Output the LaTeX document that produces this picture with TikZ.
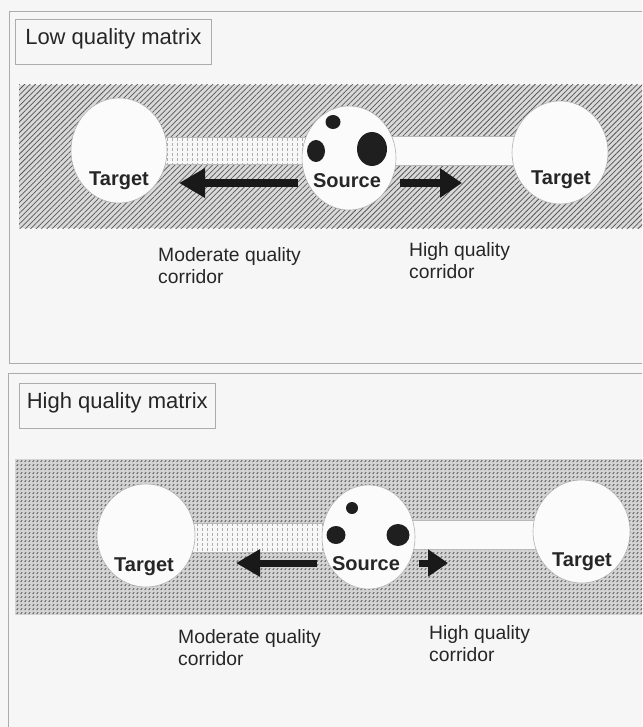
\documentclass[tikz,border=0pt]{standalone}
\usepackage{fontspec}
\setmainfont{Liberation Sans}
\usetikzlibrary{shapes.geometric,arrows.meta,patterns.meta}

\pgfdeclarepattern{
  name=ticks,
  type=uncolored,
  bottom left={\pgfpoint{-1pt}{-1pt}},
  top right={\pgfpoint{5pt}{5pt}},
  tile size={\pgfpoint{4pt}{4pt}},
  code={
    \pgfsetlinewidth{0.8pt}
    \pgfpathmoveto{\pgfpoint{0.6pt}{1.0pt}}
    \pgfpathlineto{\pgfpoint{2.2pt}{2.8pt}}
    \pgfusepath{stroke}
  }
}
\pgfdeclarepattern{
  name=vdash,
  type=uncolored,
  bottom left={\pgfpoint{-1pt}{-1pt}},
  top right={\pgfpoint{6pt}{6pt}},
  tile size={\pgfpoint{5pt}{5pt}},
  code={
    \pgfsetlinewidth{0.8pt}
    \pgfpathmoveto{\pgfpoint{2.5pt}{1pt}}
    \pgfpathlineto{\pgfpoint{2.5pt}{3.6pt}}
    \pgfusepath{stroke}
  }
}

\begin{document}
\begin{tikzpicture}[x=1pt,y=-1pt,
  frame/.style={draw=gray!65,line width=0.7pt},
  titlebox/.style={draw=gray!65,line width=0.6pt,anchor=north west,
    minimum width=196pt,minimum height=45pt,inner xsep=0pt,
    inner ysep=0pt,font=\fontsize{22}{26}\selectfont,text=black!85,
    text height=16pt,text depth=10pt},
  ellip/.style={ellipse,draw=gray!60,line width=0.6pt,fill=gray!3,inner sep=0pt},
  nm/.style={font=\bfseries\fontsize{20}{24}\selectfont,text=black!85,anchor=base,inner sep=0pt},
  lbl/.style={font=\fontsize{19.3}{21.5}\selectfont,text=black!85,align=left,anchor=base west,inner sep=0pt},
  bigarrow/.style={draw=black!90,line width=#1},
  modcorr/.style={draw=gray!55,line width=0.5pt,fill=gray!6},
  highcorr/.style={draw=gray!55,line width=0.5pt,fill=gray!4},
]
\useasboundingbox (0,0) rectangle (642,727);
\clip (0,0) rectangle (642,727);
\fill[gray!7] (0,0) rectangle (642,727);

% ---------------- Top panel: low quality matrix ----------------
\draw[frame] (9,11) rectangle (670,363);
\node[titlebox] (t1) at (15,19) {Low quality matrix};

\fill[gray!30] (19,85) rectangle (670,228);
\fill[pattern={Lines[angle=45,distance=3.8pt,line width=0.75pt]},pattern color=black!66] (19,85) rectangle (670,228);

% corridors
\draw[modcorr] (150,137) rectangle (320,164);
\fill[pattern=vdash,pattern color=gray!65] (150,137) rectangle (320,164);
\draw[highcorr] (380,136) rectangle (530,165);

% patches
\node[ellip,minimum width=96pt,minimum height=105pt] (tL) at (119,150.5) {};
\node[ellip,minimum width=94pt,minimum height=104pt] (src) at (349,158) {};
\node[ellip,minimum width=96pt,minimum height=103pt] (tR) at (560,152.5) {};

\fill[black!88] (333,122) ellipse [x radius=7.5pt,y radius=7pt];
\fill[black!88] (316,151) ellipse [x radius=9pt,y radius=11pt];
\fill[black!88] (372,149) ellipse [x radius=15pt,y radius=17pt];

\node[nm] (tLt) at (119,186) {Target};
\node[nm] (srct) at (347,188) {Source};
\node[nm] (tRt) at (561,185) {Target};

\coordinate (a1s) at (298,183);
\coordinate (a1e) at (179,183);
\coordinate (a2s) at (400,183);
\coordinate (a2e) at (462,183);
\draw[bigarrow=8pt,-{Triangle[length=26pt,width=28pt]}] (a1s) -- (a1e);
\draw[bigarrow=8pt,-{Triangle[length=22pt,width=28pt]}] (a2s) -- (a2e);

\node[lbl] (m1) at (158,283) {Moderate quality\\corridor};
\node[lbl] (h1) at (409,278) {High quality\\corridor};

% ---------------- Bottom panel: high quality matrix ----------------
\draw[frame] (8,373) rectangle (670,760);
\node[titlebox] (t2) at (19,383) {High quality matrix};

\fill[gray!34] (15,459) rectangle (670,615);
\fill[pattern=ticks,pattern color=black!65] (15,459) rectangle (670,615);

\draw[modcorr] (175,523) rectangle (340,552);
\fill[pattern=vdash,pattern color=gray!65] (175,523) rectangle (340,552);
\draw[highcorr] (400,520) rectangle (550,549);

\node[ellip,minimum width=98pt,minimum height=103pt] (bL) at (146,535.5) {};
\node[ellip,minimum width=93pt,minimum height=104pt] (bsrc) at (368.5,537) {};
\node[ellip,minimum width=97pt,minimum height=103pt] (bR) at (581.5,531.5) {};

\fill[black!88] (352,508) ellipse [x radius=6pt,y radius=6pt];
\fill[black!88] (336,535) ellipse [x radius=9.5pt,y radius=9pt];
\fill[black!88] (398,535) ellipse [x radius=11.5pt,y radius=11pt];

\node[nm] (bLt) at (144,571) {Target};
\node[nm] (bsrct) at (366,570) {Source};
\node[nm] (bRt) at (582,566) {Target};

\coordinate (b1s) at (317,563);
\coordinate (b1e) at (236,563);
\coordinate (b2s) at (419,563);
\coordinate (b2e) at (448,563);
\draw[bigarrow=7pt,-{Triangle[length=24pt,width=26pt]}] (b1s) -- (b1e);
\draw[bigarrow=7pt,-{Triangle[length=20pt,width=26pt]}] (b2s) -- (b2e);

\node[lbl] (m2) at (178,665) {Moderate quality\\corridor};
\node[lbl] (h2) at (429,661) {High quality\\corridor};
\end{tikzpicture}
\end{document}
